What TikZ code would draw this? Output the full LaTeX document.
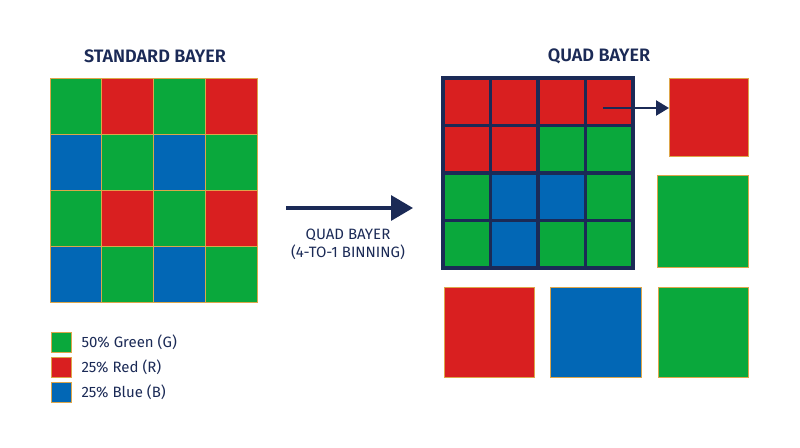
\documentclass[tikz,border=0pt]{standalone}
\usepackage{fontspec}
\setmainfont{Fira Sans}
\newfontfamily\titlefont{Fira Sans SemiBold}
\usetikzlibrary{arrows.meta}
\definecolor{bgreen}{HTML}{0AA83C}
\definecolor{bred}{HTML}{D91F20}
\definecolor{bblue}{HTML}{0267B5}
\definecolor{tan}{HTML}{DDA64A}
\definecolor{navy}{HTML}{1B2A56}
\tikzset{
  cellG/.style={fill=bgreen,draw=tan,line width=1pt},
  cellR/.style={fill=bred,draw=tan,line width=1pt},
  cellB/.style={fill=bblue,draw=tan,line width=1pt},
  qG/.style={fill=bgreen},
  qR/.style={fill=bred},
  qB/.style={fill=bblue},
  title/.style={text=navy,font=\titlefont\fontsize{18}{20}\selectfont},
  lab/.style={text=navy,font=\fontsize{15}{18}\selectfont},
}
\begin{document}
\begin{tikzpicture}[x=1pt,y=-1pt]
\useasboundingbox (0,0) rectangle (800,447);
% titles
\node[title] (t1) at (155,56) {STANDARD BAYER};
\node[title] (t2) at (599,56) {QUAD BAYER};
% standard bayer grid
\def\sx{50}\def\sy{78}\def\cw{51.75}\def\ch{56}
\foreach \r/\row in {0/{G,R,G,R},1/{B,G,B,G},2/{G,R,G,R},3/{B,G,B,G}}{
  \foreach \c [count=\i from 0] in \row {
    \path[cell\c] (\sx+\i*\cw,\sy+\r*\ch) rectangle ++(\cw,\ch);
  }
}
% quad bayer grid
\def\qx{443}\def\qy{78}\def\qw{47.5}
\foreach \r/\row in {0/{R,R,R,R},1/{R,R,G,G},2/{G,B,B,G},3/{G,B,G,G}}{
  \foreach \c [count=\i from 0] in \row {
    \path[q\c] (\qx+\i*\qw,\qy+\r*\qw) rectangle ++(\qw,\qw);
  }
}
\foreach \i in {1,2,3}{
  \draw[navy,line width=3.5pt] (\qx+\i*\qw,\qy) -- ++(0,190);
  \draw[navy,line width=3.5pt] (\qx,\qy+\i*\qw) -- ++(190,0);
}
\draw[navy,line width=3.5pt] (\qx,\qy) rectangle ++(190,190);
% binned squares
\node[cellR,minimum width=79pt,minimum height=78pt,inner sep=0pt,anchor=north west] (sR1) at (669,78) {};
\node[cellG,minimum width=91pt,minimum height=92pt,inner sep=0pt,anchor=north west] (sG1) at (657,175) {};
\node[cellR,minimum width=90pt,minimum height=90pt,inner sep=0pt,anchor=north west] (sR2) at (444,287) {};
\node[cellB,minimum width=91pt,minimum height=90pt,inner sep=0pt,anchor=north west] (sB) at (550,287) {};
\node[cellG,minimum width=90pt,minimum height=90pt,inner sep=0pt,anchor=north west] (sG2) at (658,287) {};
% small arrow
\coordinate (sa) at (603,108);
\draw[navy,line width=2.5pt,-{Triangle[length=13pt,width=15pt]}] (sa) -- (sR1.west |- sa);
% big arrow
\coordinate (ba) at (286,208);
\coordinate (bb) at (413,208);
\draw[navy,line width=3.2pt,-{Triangle[length=22pt,width=25pt]}] (ba) -- (bb);
\node[lab,align=center] (al) at (348,244) {QUAD BAYER\\(4-TO-1 BINNING)};
% legend
\node[cellG,minimum size=20pt,inner sep=0pt] (lg) at (61,342) {};
\node[cellR,minimum size=20pt,inner sep=0pt] (lr) at (61,367) {};
\node[cellB,minimum size=20pt,inner sep=0pt] (lb) at (61,392) {};
\node[lab,anchor=west] (tg) at (78,342) {50\% Green (G)};
\node[lab,anchor=west] (tr) at (78,367) {25\% Red (R)};
\node[lab,anchor=west] (tb) at (78,392) {25\% Blue (B)};
\end{tikzpicture}
\end{document}
